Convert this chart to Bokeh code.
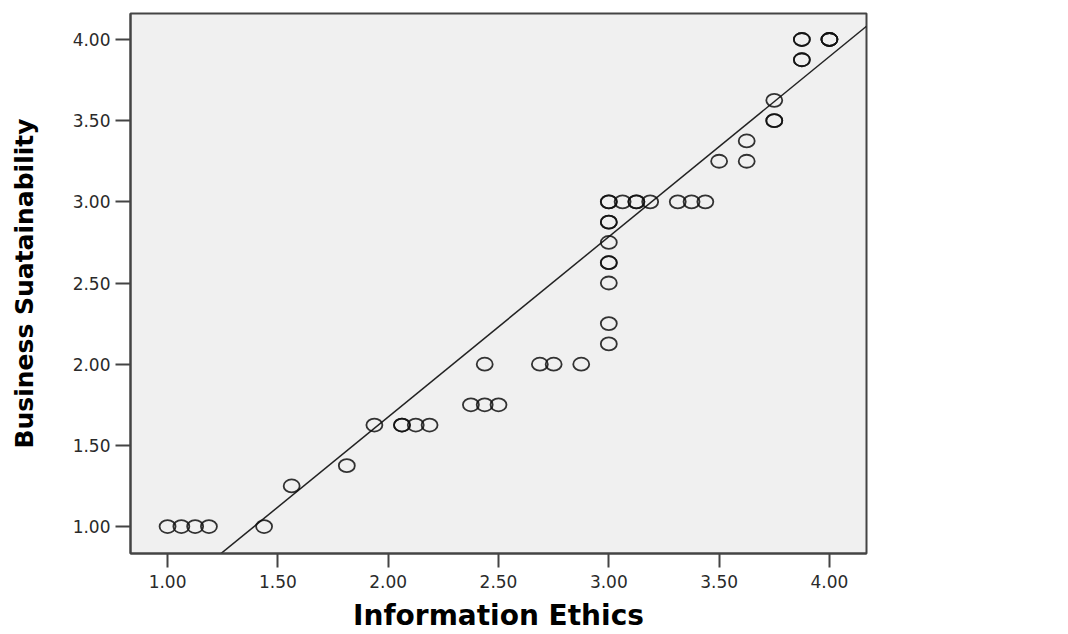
from bokeh.plotting import figure
from bokeh.models import Range1d, FixedTicker, NumeralTickFormatter, Label
from bokeh.embed import file_html
from bokeh.resources import INLINE

# Data
info_ethics = [1.0, 1.0625, 1.125, 1.1875, 1.4375,
               1.5625, 1.8125,
               1.9375, 2.0625, 2.0625, 2.125, 2.1875,
               2.375, 2.4375, 2.5,
               2.4375, 2.6875, 2.75, 2.875,
               3.0, 3.0, 3.0, 3.0, 3.0, 3.0, 3.0, 3.0, 3.0, 3.0,
               3.0625, 3.125, 3.125, 3.1875, 3.3125, 3.375, 3.4375,
               3.5, 3.625, 3.625,
               3.75, 3.75, 3.75,
               3.875, 3.875, 3.875, 3.875, 4.0, 4.0, 4.0]
business_sust = [1.0, 1.0, 1.0, 1.0, 1.0,
                 1.25, 1.375,
                 1.625, 1.625, 1.625, 1.625, 1.625,
                 1.75, 1.75, 1.75,
                 2.0, 2.0, 2.0, 2.0,
                 2.125, 2.25, 2.5, 2.625, 2.625, 2.75, 2.875, 2.875, 3.0, 3.0,
                 3.0, 3.0, 3.0, 3.0, 3.0, 3.0, 3.0,
                 3.25, 3.25, 3.375,
                 3.5, 3.5, 3.625,
                 3.875, 3.875, 4.0, 4.0, 4.0, 4.0, 4.0]
fit_intercept = -0.545
fit_slope = 1.11
r2_text = "R\u00b2 Linear = 0.948"
tick_values = [1.0, 1.5, 2.0, 2.5, 3.0, 3.5, 4.0]
x_title = "Information Ethics"
y_title = "Business Suatainability"

x_lo, x_hi = 0.832, 4.168
y_lo, y_hi = 0.834, 4.16

p = figure(width=1068, height=634, output_backend="svg", toolbar_location=None,
           x_range=Range1d(x_lo, x_hi), y_range=Range1d(y_lo, y_hi),
           min_border_left=130, min_border_right=202, min_border_top=13, min_border_bottom=81)
p.background_fill_color = "#f0f0f0"
p.border_fill_color = "white"
p.outline_line_color = "#444444"
p.outline_line_width = 2
p.grid.visible = False

for ax in (p.xaxis[0], p.yaxis[0]):
    ax.ticker = FixedTicker(ticks=tick_values)
    ax.formatter = NumeralTickFormatter(format="0.00")
    ax.axis_line_color = "#444444"
    ax.axis_line_width = 2
    ax.major_tick_line_color = "#444444"
    ax.major_tick_line_width = 2
    ax.major_tick_in = 0
    ax.minor_tick_line_color = None
    ax.major_label_text_font = "DejaVu Sans"
    ax.major_label_text_font_size = "17px"
    ax.major_label_text_color = "#2a2a2a"
    ax.axis_label_text_font = "DejaVu Sans"
    ax.axis_label_text_font_style = "bold"
    ax.axis_label_text_color = "black"

p.xaxis[0].major_tick_out = 14
p.xaxis[0].major_label_standoff = 7
p.yaxis[0].major_tick_out = 15
p.yaxis[0].major_label_standoff = 5
p.xaxis[0].axis_label = x_title
p.xaxis[0].axis_label_text_font_size = "28px"
p.xaxis[0].axis_label_standoff = 8
p.yaxis[0].axis_label = y_title
p.yaxis[0].axis_label_text_font_size = "25px"
p.yaxis[0].axis_label_standoff = 31

# regression line across the full x range
line_x = [x_lo, x_hi]
line_y = [fit_intercept + fit_slope * v for v in line_x]
p.line(line_x, line_y, line_color="#222222", line_width=1.5)

p.ellipse(x=info_ethics, y=business_sust, width=16, height=13,
          width_units="screen", height_units="screen",
          fill_color=None, line_color="#111111", line_width=1.8, line_alpha=0.85)

lab = Label(x=x_hi, y=y_hi, x_offset=2, y_offset=-24, text=r2_text,
            text_font="DejaVu Sans", text_font_size="18px", text_color="#222222",
            text_baseline="alphabetic")
p.add_layout(lab)

open("out.html", "w").write(file_html(p, INLINE))
